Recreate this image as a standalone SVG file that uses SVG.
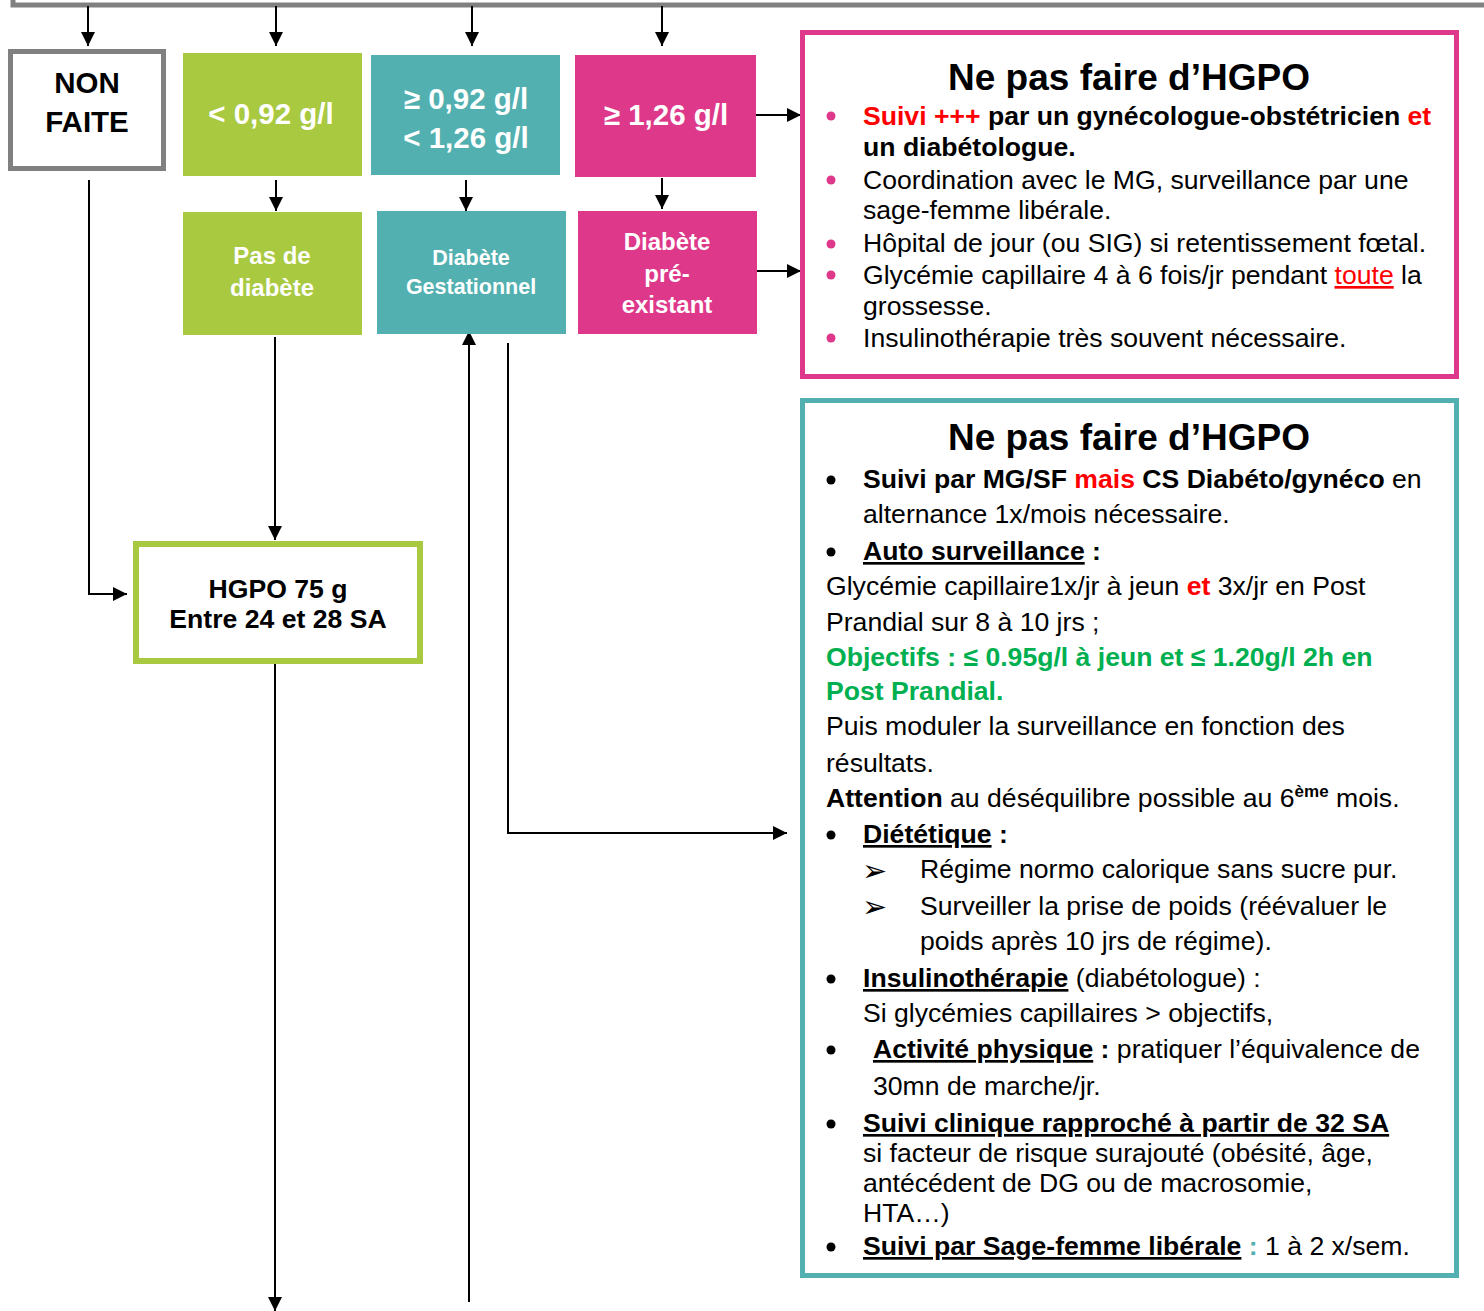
<svg xmlns="http://www.w3.org/2000/svg" width="1484" height="1311" viewBox="0 0 1484 1311">
<style>
text{font-family:"Liberation Sans",Arial,sans-serif;}
.lbl{fill:#fff;font-weight:bold;text-anchor:middle;}
.b{font-weight:bold;}
.body{font-size:26.6px;fill:#000;}
.ttl{font-size:37px;font-weight:bold;text-anchor:middle;}
.red{fill:#FF0000;}
.grn{fill:#00B050;}
.u{text-decoration:underline;}
.ln{stroke:#000;stroke-width:2;fill:none;}
.arr{font-family:"DejaVu Sans",sans-serif;font-size:30px;}
</style>
<defs>
<marker id="ah" viewBox="0 0 10 10" refX="10" refY="5" markerWidth="14" markerHeight="14" markerUnits="userSpaceOnUse" orient="auto">
<path d="M0,0 L10,5 L0,10 Z" fill="#000"/>
</marker>
</defs>
<rect x="0" y="0" width="1484" height="1311" fill="#fff"/>
<g id="top-frame"><rect x="13" y="-30" width="1490" height="35" fill="none" stroke="#808080" stroke-width="5"/></g>

<g id="connectors">
<line class="ln" x1="88" y1="6" x2="88" y2="46" marker-end="url(#ah)"/>
<line class="ln" x1="276" y1="6" x2="276" y2="46" marker-end="url(#ah)"/>
<line class="ln" x1="472" y1="6" x2="472" y2="46" marker-end="url(#ah)"/>
<line class="ln" x1="662" y1="6" x2="662" y2="46" marker-end="url(#ah)"/>
<line class="ln" x1="276" y1="180" x2="276" y2="211" marker-end="url(#ah)"/>
<line class="ln" x1="466" y1="180" x2="466" y2="211" marker-end="url(#ah)"/>
<line class="ln" x1="662" y1="178" x2="662" y2="209" marker-end="url(#ah)"/>
<line class="ln" x1="756" y1="115" x2="801" y2="115" marker-end="url(#ah)"/>
<line class="ln" x1="757" y1="271" x2="801" y2="271" marker-end="url(#ah)"/>
<polyline class="ln" points="89,180 89,594 127,594" marker-end="url(#ah)"/>
<line class="ln" x1="275" y1="337" x2="275" y2="540" marker-end="url(#ah)"/>
<line class="ln" x1="275" y1="664" x2="275" y2="1311" marker-end="url(#ah)"/>
<line class="ln" x1="469" y1="1302" x2="469" y2="331" marker-end="url(#ah)"/>
<polyline class="ln" points="508,343 508,833 787,833" marker-end="url(#ah)"/>
</g>

<g id="non-faite">
<rect x="10.5" y="51.5" width="153" height="117" fill="#fff" stroke="#808080" stroke-width="5"/>
<text x="87" y="93" font-size="29.5" font-weight="bold" text-anchor="middle">NON</text>
<text x="87" y="132" font-size="29.5" font-weight="bold" text-anchor="middle">FAITE</text>
</g>
<g id="lt092">
<rect x="183" y="53" width="179" height="123" fill="#A8C940"/>
<text class="lbl" x="271" y="124" font-size="29.5">&lt; 0,92 g/l</text>
</g>
<g id="between">
<rect x="371" y="55" width="189" height="120" fill="#52B0B0"/>
<text class="lbl" x="466" y="109" font-size="29.5">≥ 0,92 g/l</text>
<text class="lbl" x="466" y="148" font-size="29.5">&lt; 1,26 g/l</text>
</g>
<g id="ge126">
<rect x="575" y="55" width="181" height="122" fill="#DE388A"/>
<text class="lbl" x="666" y="125" font-size="29.5">≥ 1,26 g/l</text>
</g>
<g id="pas-diabete">
<rect x="183" y="212" width="179" height="123" fill="#A8C940"/>
<text class="lbl" x="272" y="264" font-size="24">Pas de</text>
<text class="lbl" x="272" y="296" font-size="24">diabète</text>
</g>
<g id="diabete-gestationnel">
<rect x="377" y="211" width="189" height="123" fill="#52B0B0"/>
<text class="lbl" x="471" y="265" font-size="21.5">Diabète</text>
<text class="lbl" x="471" y="294" font-size="21.5">Gestationnel</text>
</g>
<g id="diabete-preexistant">
<rect x="578" y="211" width="179" height="123" fill="#DE388A"/>
<text class="lbl" x="667" y="250" font-size="24">Diabète</text>
<text class="lbl" x="667" y="282" font-size="24">pré-</text>
<text class="lbl" x="667" y="313" font-size="24">existant</text>
</g>
<g id="hgpo">
<rect x="136" y="544" width="284" height="117" fill="#fff" stroke="#A8C940" stroke-width="6"/>
<text x="278" y="598" font-size="26.6" font-weight="bold" text-anchor="middle">HGPO 75 g</text>
<text x="278" y="628" font-size="26.6" font-weight="bold" text-anchor="middle">Entre 24 et 28 SA</text>
</g>

<g id="pink-box">
<rect x="802.5" y="32.5" width="654" height="344" fill="#fff" stroke="#DE388A" stroke-width="5"/>
<text class="ttl" x="1129" y="90">Ne pas faire d’HGPO</text>
<g fill="#DE388A">
<circle cx="831" cy="116" r="4.5"/><circle cx="831" cy="180" r="4.5"/><circle cx="831" cy="244" r="4.5"/><circle cx="831" cy="275" r="4.5"/><circle cx="831" cy="338" r="4.5"/>
</g>
<text class="body b" x="863" y="125"><tspan class="red">Suivi +++</tspan> par un gynécologue-obstétricien <tspan class="red">et</tspan></text>
<text class="body b" x="863" y="156">un diabétologue.</text>
<text class="body" x="863" y="189">Coordination avec le MG, surveillance par une</text>
<text class="body" x="863" y="219">sage-femme libérale.</text>
<text class="body" x="863" y="252">Hôpital de jour (ou SIG) si retentissement fœtal.</text>
<text class="body" x="863" y="284">Glycémie capillaire 4 à 6 fois/jr pendant <tspan class="red u">toute</tspan> la</text>
<text class="body" x="863" y="315">grossesse.</text>
<text class="body" x="863" y="347">Insulinothérapie très souvent nécessaire.</text>
</g>

<g id="teal-box">
<rect x="802.5" y="400.5" width="654" height="875" fill="#fff" stroke="#52B0B0" stroke-width="5"/>
<text class="ttl" x="1129" y="450">Ne pas faire d’HGPO</text>
<g fill="#000">
<circle cx="831" cy="480" r="4.5"/><circle cx="831" cy="552" r="4.5"/><circle cx="831" cy="835" r="4.5"/><circle cx="831" cy="979" r="4.5"/><circle cx="831" cy="1050" r="4.5"/><circle cx="831" cy="1124" r="4.5"/><circle cx="831" cy="1247" r="4.5"/>
</g>
<text class="body" x="863" y="488"><tspan class="b">Suivi par MG/SF </tspan><tspan class="b red">mais</tspan><tspan class="b"> CS Diabéto/gynéco</tspan> en</text>
<text class="body" x="863" y="523">alternance 1x/mois nécessaire.</text>
<text class="body b" x="863" y="560"><tspan class="u">Auto surveillance</tspan> :</text>
<text class="body" x="826" y="595">Glycémie capillaire1x/jr à jeun <tspan class="b red">et</tspan> 3x/jr en Post</text>
<text class="body" x="826" y="631">Prandial sur 8 à 10 jrs ;</text>
<text class="body b grn" x="826" y="666">Objectifs : ≤ 0.95g/l à jeun et ≤ 1.20g/l 2h en</text>
<text class="body b grn" x="826" y="700">Post Prandial.</text>
<text class="body" x="826" y="735">Puis moduler la surveillance en fonction des</text>
<text class="body" x="826" y="772">résultats.</text>
<text class="body" x="826" y="807"><tspan class="b">Attention</tspan> au déséquilibre possible au 6<tspan dy="-10" font-size="17" font-weight="bold">ème</tspan><tspan dy="10"> mois.</tspan></text>
<text class="body b" x="863" y="843"><tspan class="u">Diététique</tspan> :</text>
<text class="arr" x="862" y="881">➢</text>
<text class="body" x="920" y="878">Régime normo calorique sans sucre pur.</text>
<text class="arr" x="862" y="917">➢</text>
<text class="body" x="920" y="915">Surveiller la prise de poids (réévaluer le</text>
<text class="body" x="920" y="950">poids après 10 jrs de régime).</text>
<text class="body" x="863" y="987"><tspan class="b u">Insulinothérapie</tspan> (diabétologue) :</text>
<text class="body" x="863" y="1022">Si glycémies capillaires &gt; objectifs,</text>
<text class="body" x="873" y="1058"><tspan class="b u">Activité physique</tspan><tspan class="b"> :</tspan> pratiquer l’équivalence de</text>
<text class="body" x="873" y="1095">30mn de marche/jr.</text>
<text class="body b u" x="863" y="1132">Suivi clinique rapproché à partir de 32 SA</text>
<text class="body" x="863" y="1162">si facteur de risque surajouté (obésité, âge,</text>
<text class="body" x="863" y="1192">antécédent de DG ou de macrosomie,</text>
<text class="body" x="863" y="1222">HTA…)</text>
<text class="body" x="863" y="1255"><tspan class="b u">Suivi par Sage-femme libérale</tspan><tspan class="b" fill="#52B0B0"> :</tspan> 1 à 2 x/sem.</text>
</g>
</svg>
